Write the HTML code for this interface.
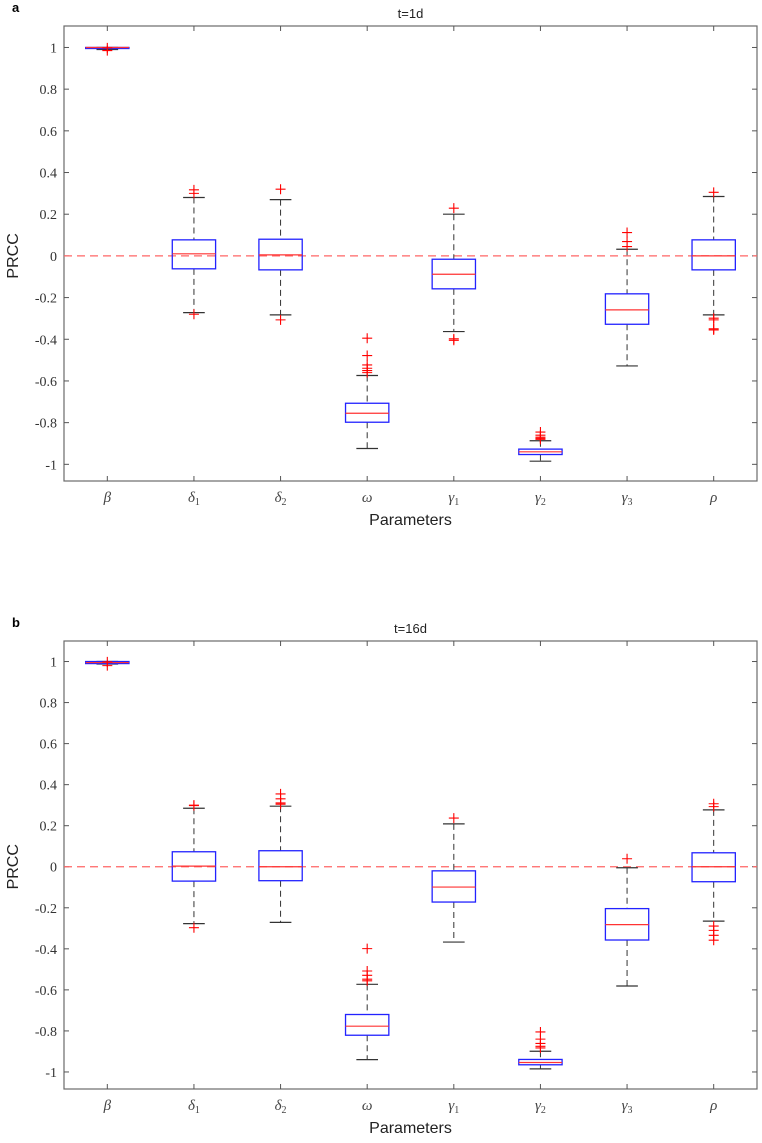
<!DOCTYPE html>
<html><head><meta charset="utf-8">
<style>
body{margin:0;background:#fff;width:762px;height:1143px;overflow:hidden}
svg{display:block}
</style></head>
<body>
<svg id="chart" width="762" height="1143" viewBox="0 0 762 1143" xmlns="http://www.w3.org/2000/svg"></svg>
<script>
const categories=["β","δ","δ","ω","γ","γ","γ","ρ"];
const subscripts=["","1","2","","1","2","3",""];
const yTicks=[1,0.8,0.6,0.4,0.2,0,-0.2,-0.4,-0.6,-0.8,-1];
const yTickLabels=["1","0.8","0.6","0.4","0.2","0","-0.2","-0.4","-0.6","-0.8","-1"];
// panel a (t=1d): [lowerWhisker, q1, median, q3, upperWhisker]
const statsA=[[0.99,0.995,1.0,1.0,1.0],[-0.272,-0.062,0.01,0.077,0.28],[-0.283,-0.067,0.005,0.08,0.27],[-0.924,-0.798,-0.755,-0.707,-0.574],[-0.363,-0.158,-0.088,-0.016,0.2],[-0.985,-0.953,-0.94,-0.927,-0.887],[-0.528,-0.328,-0.259,-0.182,0.032],[-0.283,-0.067,0.0,0.077,0.285]];
const outliersA=[[0.985,0.998],[0.317,0.30,-0.28],[0.32,-0.307],[-0.395,-0.478,-0.523,-0.539,-0.55,-0.56],[0.229,-0.398,-0.405],[-0.845,-0.86,-0.87,-0.875,-0.88],[0.112,0.069,0.045],[0.305,-0.299,-0.307,-0.35,-0.355]];
// panel b (t=16d)
const statsB=[[0.988,0.99,0.995,1.0,1.0],[-0.277,-0.07,0.003,0.073,0.285],[-0.271,-0.068,0.0,0.078,0.295],[-0.94,-0.821,-0.777,-0.72,-0.573],[-0.367,-0.172,-0.099,-0.02,0.209],[-0.985,-0.965,-0.954,-0.939,-0.899],[-0.581,-0.357,-0.282,-0.204,-0.005],[-0.265,-0.073,0.0,0.068,0.277]];
const outliersB=[[0.98,0.998],[0.298,0.30,-0.297],[0.355,0.331,0.311,0.305],[-0.399,-0.508,-0.529,-0.548,-0.556],[0.237],[-0.805,-0.84,-0.861,-0.875,-0.883],[0.039],[0.307,0.293,-0.289,-0.31,-0.334,-0.358]];

const NS="http://www.w3.org/2000/svg";
const svg=document.getElementById("chart");
const SANS="Liberation Sans, sans-serif", SERIF="Liberation Serif, serif";
function mk(tag,attrs,parent){const e=document.createElementNS(NS,tag);for(const k in attrs)e.setAttribute(k,attrs[k]);(parent||svg).appendChild(e);return e;}

function panel(cfg){
  const {top,bottom,left,right,yMin,yMax,title,letter,stats,outs,key}=cfg;
  const g=mk("g",{});
  
  
  const ys=v=>top+(yMax-v)/(yMax-yMin)*(bottom-top);
  const step=(right-left)/categories.length;
  const xs=i=>left+step*(i+0.5);
  let t=mk("text",{x:12,y:top-14,"font-family":SANS,"font-size":"13","font-weight":"bold",fill:"#000"},g);
  t.textContent=letter;
  
  
  t=mk("text",{x:(left+right)/2,y:top-8,"text-anchor":"middle","font-family":SANS,"font-size":"13",fill:"#222"},g);
  t.textContent=title;
  
  
  const fr=mk("rect",{x:left,y:top,width:right-left,height:bottom-top,fill:"none",stroke:"#6a6a6a","stroke-width":"1.2"},g);
  
  
  yTicks.forEach((v,i)=>{
    const y=ys(v);
    mk("line",{x1:left,x2:left+5,y1:y,y2:y,stroke:"#555","stroke-width":"1"},g);
    mk("line",{x1:right,x2:right-5,y1:y,y2:y,stroke:"#555","stroke-width":"1"},g);
    const lb=mk("text",{x:left-7,y:y+5,"text-anchor":"end","font-family":SERIF,"font-size":"14",fill:"#333"},g);
    lb.textContent=yTickLabels[i];
    
    
  });
  categories.forEach((c,i)=>{
    const x=xs(i);
    mk("line",{x1:x,x2:x,y1:bottom,y2:bottom-5,stroke:"#555","stroke-width":"1"},g);
    mk("line",{x1:x,x2:x,y1:top,y2:top+5,stroke:"#555","stroke-width":"1"},g);
    const lb=mk("text",{x:x,y:bottom+21,"text-anchor":"middle","font-family":SERIF,"font-size":"15","font-style":"italic",fill:"#444"},g);
    lb.textContent=c;
    if(subscripts[i]){const s=mk("tspan",{"font-size":"10","font-style":"normal",dy:"3"},lb);s.textContent=subscripts[i];}
    
    
  });
  t=mk("text",{x:(left+right)/2,y:bottom+44,"text-anchor":"middle","font-family":SANS,"font-size":"16",fill:"#222"},g);
  t.textContent="Parameters";
  
  
  const ym=ys(0);
  t=mk("text",{x:0,y:0,"text-anchor":"middle","font-family":SANS,"font-size":"16",fill:"#222",transform:`translate(18,${ym}) rotate(-90)`},g);
  t.textContent="PRCC";
  
  
  const zl=mk("line",{x1:left,x2:right,y1:ym,y2:ym,stroke:"#ff6666","stroke-width":"1.2","stroke-dasharray":"8,5"},g);
  
  
  const bw=step*0.5, cw=step*0.25;
  stats.forEach((s,i)=>{
    const x=xs(i);
    const bg=mk("g",{},g);
    
    
    mk("line",{x1:x,x2:x,y1:ys(s[4]),y2:ys(s[3]),stroke:"#333","stroke-width":"1","stroke-dasharray":"6,4"},bg);
    mk("line",{x1:x,x2:x,y1:ys(s[1]),y2:ys(s[0]),stroke:"#333","stroke-width":"1","stroke-dasharray":"6,4"},bg);
    mk("line",{x1:x-cw/2,x2:x+cw/2,y1:ys(s[4]),y2:ys(s[4]),stroke:"#333","stroke-width":"1.2"},bg);
    mk("line",{x1:x-cw/2,x2:x+cw/2,y1:ys(s[0]),y2:ys(s[0]),stroke:"#333","stroke-width":"1.2"},bg);
    mk("rect",{x:x-bw/2,y:ys(s[3]),width:bw,height:Math.max(1,ys(s[1])-ys(s[3])),fill:"none",stroke:"#2222ff","stroke-width":"1.3"},bg);
    mk("line",{x1:x-bw/2,x2:x+bw/2,y1:ys(s[2]),y2:ys(s[2]),stroke:"#ff3333","stroke-width":"1.2"},bg);
    outs[i].forEach(v=>{
      const y=ys(v);
      const o=mk("path",{d:`M${x-5},${y}H${x+5}M${x},${y-5}V${y+5}`,stroke:"#ff0000","stroke-width":"1.1",fill:"none"},bg);
      
      
    });
  });
}
panel({top:26,bottom:481,left:64,right:757,yMin:-1.08,yMax:1.103,title:"t=1d",letter:"a",stats:statsA,outs:outliersA,key:"a"});
panel({top:641,bottom:1089,left:64,right:757,yMin:-1.083,yMax:1.10,title:"t=16d",letter:"b",stats:statsB,outs:outliersB,key:"b"});
</script>
</body></html>
